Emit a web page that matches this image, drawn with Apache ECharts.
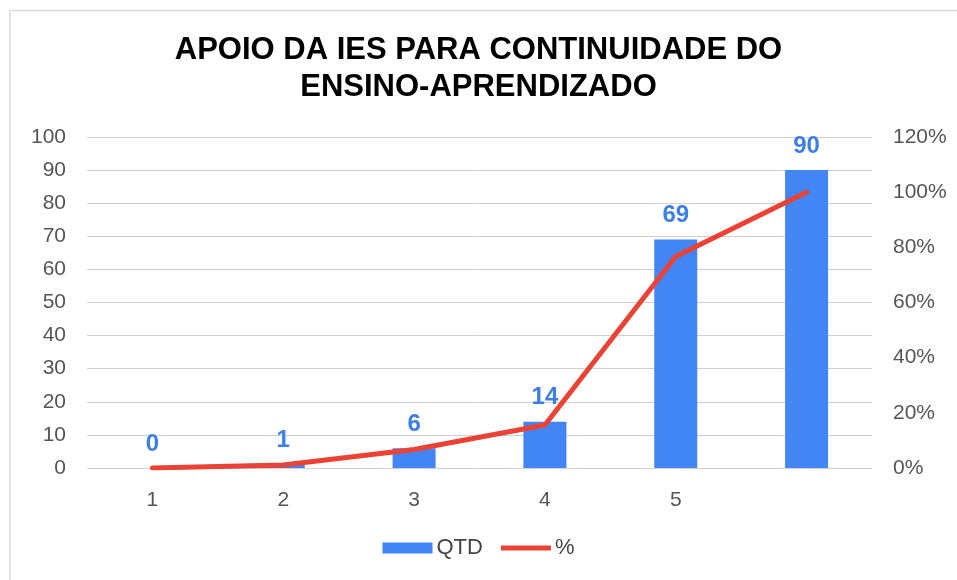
<!DOCTYPE html>
<html>
<head>
<meta charset="utf-8">
<script src="https://cdn.jsdelivr.net/npm/echarts@6/dist/echarts.min.js"></script>
<style>
    html, body { margin: 0; padding: 0; background: #fff; }
    #main { width: 957px; height: 580px; }
</style>
</head>
<body>
<div id="main"></div>
<script>
    var categories = ['1', '2', '3', '4', '5', ''];
    var qtdValues = [0, 1, 6, 14, 69, 90];
    var pctValues = [0, 1.1, 6.7, 15.6, 76.7, 100];
    var leftTicks = { min: 0, max: 100, interval: 10 };
    var rightTicks = { min: 0, max: 120, interval: 20 };

    var myChart = echarts.init(document.getElementById('main'));

    var fontName = 'Liberation Sans, Arial';

    var option = {
        backgroundColor: '#fff',
        animation: false,
        // moldura cinza do grafico
        graphic: [{
            type: 'polyline',
            shape: { points: [[10, 600], [10, 10.5], [970, 10.5]] },
            style: { stroke: '#d9d9d9', lineWidth: 1.5, fill: null }
        }],
        title: {
            text: 'APOIO DA IES PARA CONTINUIDADE DO\nENSINO-APRENDIZADO',
            left: 'center',
            top: 27,
            textStyle: {
                fontFamily: fontName,
                fontSize: 31,
                fontWeight: 'bold',
                color: '#000',
                lineHeight: 37
            }
        },
        legend: {
            bottom: 16,
            left: 'center',
            itemWidth: 50,
            itemHeight: 11,
            itemGap: 18,
            textStyle: { fontFamily: fontName, fontSize: 22, color: '#444', padding: [0, 0, 0, -1] },
            data: [
                { name: 'QTD', icon: 'rect' },
                { name: '%', icon: 'path://M0,0 L50,0 L50,5 L0,5 Z' }
            ]
        },
        grid: {
            left: 87,
            right: 85,
            top: 137,
            bottom: 112
        },
        xAxis: {
            type: 'category',
            data: categories,
            axisLine: { show: false },
            axisTick: { show: false },
            axisLabel: {
                margin: 22,
                fontFamily: fontName,
                fontSize: 21,
                color: '#555'
            }
        },
        yAxis: [{
            type: 'value',
            min: leftTicks.min,
            max: leftTicks.max,
            interval: leftTicks.interval,
            axisLine: { show: false },
            axisTick: { show: false },
            splitLine: { lineStyle: { color: '#d0d0d0', width: 1 } },
            axisLabel: {
                margin: 21,
                fontFamily: fontName,
                fontSize: 21,
                color: '#555'
            }
        }, {
            type: 'value',
            min: rightTicks.min,
            max: rightTicks.max,
            interval: rightTicks.interval,
            axisLine: { show: false },
            axisTick: { show: false },
            splitLine: { show: false },
            axisLabel: {
                margin: 21,
                formatter: '{value}%',
                fontFamily: fontName,
                fontSize: 21,
                color: '#555'
            }
        }],
        series: [{
            name: 'QTD',
            type: 'bar',
            data: qtdValues,
            barWidth: 43,
            itemStyle: { color: '#4285f4' },
            label: {
                show: true,
                position: 'top',
                distance: 12,
                fontFamily: fontName,
                fontSize: 24,
                fontWeight: 'bold',
                color: '#3d7fe6'
            }
        }, {
            name: '%',
            type: 'line',
            yAxisIndex: 1,
            data: pctValues,
            smooth: false,
            symbol: 'none',
            lineStyle: { color: '#ea4335', width: 5, cap: 'round', join: 'round' },
            itemStyle: { color: '#ea4335' },
            z: 3
        }]
    };

    myChart.setOption(option);
</script>
</body>
</html>
